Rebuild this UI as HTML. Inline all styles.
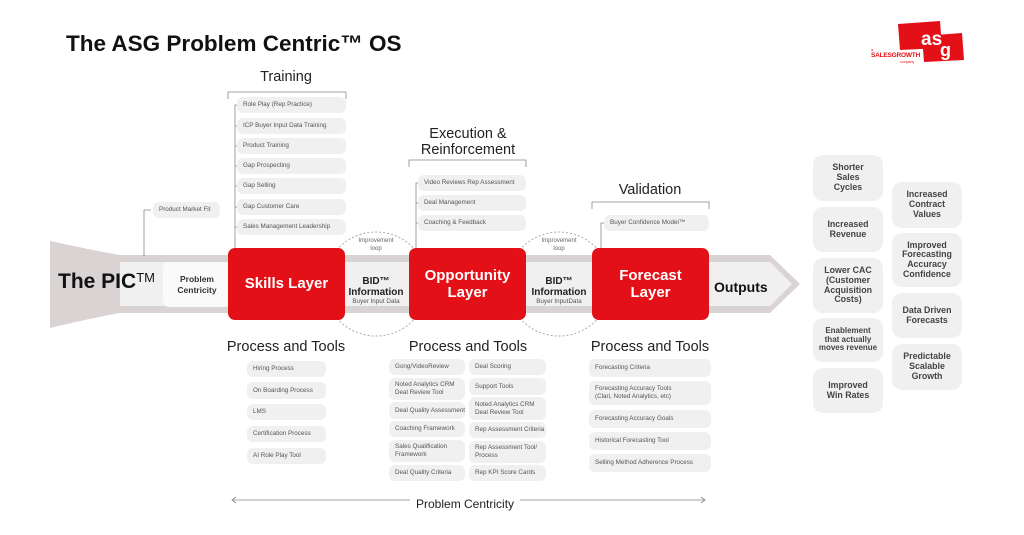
<!DOCTYPE html>
<html><head><meta charset="utf-8"><style>
*{margin:0;padding:0;box-sizing:border-box}
body{width:1024px;height:535px;background:#fff;font-family:"Liberation Sans",sans-serif;position:relative;overflow:hidden;color:#222}
.a{position:absolute}
.p{position:absolute;background:#f0f0f0;border-radius:6px;font-size:6.3px;color:#555;display:flex;align-items:center;padding-left:6px;line-height:1.2;white-space:nowrap}
.red{position:absolute;background:#e31017;border-radius:7px;color:#fff;font-weight:bold;display:flex;align-items:center;justify-content:center;text-align:center;font-size:15px;line-height:1.15}
.o{position:absolute;background:#f0f0f0;border-radius:10px;display:flex;align-items:center;justify-content:center;text-align:center;font-size:8.8px;font-weight:bold;color:#444;line-height:1.1}
.h{position:absolute;font-size:14.5px;color:#222;text-align:center;white-space:nowrap}
.bid{position:absolute;text-align:center;font-size:10px;font-weight:bold;color:#222;line-height:1.05}
.bid small{display:block;font-size:6.3px;font-weight:normal;color:#555;margin-top:1px}
.il{position:absolute;font-size:6px;color:#666;text-align:center;line-height:1.3}
</style></head><body>
<div class="a" style="left:66px;top:31px;font-size:22.5px;font-weight:bold;color:#111">The ASG Problem Centric™ OS</div>

<svg class="a" style="left:0;top:0" width="1024" height="535">
<path d="M898 24 L940 21 L942 48 L900 50 Z" fill="#e31017"/>
<path d="M922 36 L962 33 L964 60 L924 62 Z" fill="#e31017"/>
<text x="921" y="45" fill="#fff" font-size="19" font-weight="bold" font-family="Liberation Sans">as</text>
<text x="940" y="56" fill="#fff" font-size="18" font-weight="bold" font-family="Liberation Sans">g</text>
<circle cx="376" cy="284" r="52" fill="none" stroke="#aaa" stroke-width="1" stroke-dasharray="2 2"/>
<circle cx="559" cy="284" r="52" fill="none" stroke="#aaa" stroke-width="1" stroke-dasharray="2 2"/>
<path d="M50 241 Q100 252 120 255 L770 255 L800 284 L770 313 L120 313 Q100 316 50 328 Z" fill="#d9d3d3"/>
<path d="M120 262 L770 262 L792 284 L770 306 L120 306 Z" fill="#f0f0f0"/>
<path d="M50 241 Q100 252 120 255 L120 313 Q100 316 50 328 Z" fill="#d9d3d3"/>
<g stroke="#888" stroke-width="0.8" fill="none">
<path d="M144 256 V210 H151"/>
<path d="M228 99 V92 H346 V99"/>
<path d="M235 248 V105 H240"/>
<path d="M235 126 H240 M235 146 H240 M235 166 H240 M235 186 H240 M235 207 H240 M235 227 H240"/>
<path d="M409 167 V160 H526 V167"/>
<path d="M416 248 V183 H421 M416 203 H421 M416 223 H421"/>
<path d="M592 209 V202 H709 V209"/>
<path d="M601 248 V223 H606"/>
<path d="M232 500 H705"/>
<path d="M236 497 L232 500 L236 503 M701 497 L705 500 L701 503"/>
</g>
</svg>
<div class="a" style="left:871px;top:47px;font-size:4px;color:#e31017">a</div>
<div class="a" style="left:871px;top:52px;font-size:6.5px;color:#e31017;font-weight:bold;letter-spacing:-0.2px">SALESGROWTH</div>
<div class="a" style="left:900px;top:60px;font-size:3.5px;color:#e31017">company</div>

<div class="a" style="left:58px;top:270px;font-size:21px;font-weight:bold;color:#111">The PIC<span style="font-size:13px;font-weight:normal;vertical-align:6px">TM</span></div>
<div class="a" style="left:163px;top:262px;width:68px;height:45px;background:#fafafa;border-radius:6px;display:flex;align-items:center;justify-content:center;text-align:center;font-size:8.5px;font-weight:bold;color:#333;line-height:1.2">Problem<br>Centricity</div>
<div class="red" style="left:228px;top:248px;width:117px;height:72px">Skills Layer</div>
<div class="red" style="left:409px;top:248px;width:117px;height:72px">Opportunity<br>Layer</div>
<div class="red" style="left:592px;top:248px;width:117px;height:72px">Forecast<br>Layer</div>
<div class="bid" style="left:343px;top:277px;width:66px">BID™<br>Information<small>Buyer Input Data</small></div>
<div class="bid" style="left:526px;top:277px;width:66px">BID™<br>Information<small>Buyer InputData</small></div>
<div class="il" style="left:346px;top:238px;width:60px">Improvement<br>loop</div>
<div class="il" style="left:529px;top:238px;width:60px">Improvement<br>loop</div>
<div class="a" style="left:714px;top:279px;font-size:14px;font-weight:bold;color:#111">Outputs</div>

<div class="h" style="left:226px;top:69px;width:120px">Training</div>
<div class="h" style="left:408px;top:126px;width:120px;line-height:16px">Execution &amp;<br>Reinforcement</div>
<div class="h" style="left:590px;top:182px;width:120px">Validation</div>
<div class="h" style="left:206px;top:339px;width:160px">Process and Tools</div>
<div class="h" style="left:388px;top:339px;width:160px">Process and Tools</div>
<div class="h" style="left:570px;top:339px;width:160px">Process and Tools</div>

<div class="p" style="left:153px;top:202px;width:67px;height:16px">Product Market Fit</div>
<div class="p" style="left:237px;top:97px;width:109px;height:16px">Role Play (Rep Practice)</div>
<div class="p" style="left:237px;top:118px;width:109px;height:16px">ICP Buyer Input Data Training</div>
<div class="p" style="left:237px;top:138px;width:109px;height:16px">Product Training</div>
<div class="p" style="left:237px;top:158px;width:109px;height:16px">Gap Prospecting</div>
<div class="p" style="left:237px;top:178px;width:109px;height:16px">Gap Selling</div>
<div class="p" style="left:237px;top:199px;width:109px;height:16px">Gap Customer Care</div>
<div class="p" style="left:237px;top:219px;width:109px;height:16px">Sales Management Leadership</div>

<div class="p" style="left:418px;top:175px;width:108px;height:16px">Video Reviews Rep Assessment</div>
<div class="p" style="left:418px;top:195px;width:108px;height:16px">Deal Management</div>
<div class="p" style="left:418px;top:215px;width:108px;height:16px">Coaching &amp; Feedback</div>
<div class="p" style="left:604px;top:215px;width:105px;height:16px">Buyer Confidence Model™</div>

<div class="p" style="left:247px;top:361px;width:79px;height:16px">Hiring Process</div>
<div class="p" style="left:247px;top:382px;width:79px;height:17px">On Boarding Process</div>
<div class="p" style="left:247px;top:404px;width:79px;height:16px">LMS</div>
<div class="p" style="left:247px;top:426px;width:79px;height:16px">Certification Process</div>
<div class="p" style="left:247px;top:448px;width:79px;height:16px">AI Role Play Tool</div>

<div class="p" style="left:389px;top:359px;width:76px;height:16px">Gong/VideoReview</div>
<div class="p" style="left:389px;top:378px;width:76px;height:22px">Noted Analytics CRM<br>Deal Review Tool</div>
<div class="p" style="left:389px;top:402px;width:76px;height:17px">Deal Quality Assessment</div>
<div class="p" style="left:389px;top:421px;width:76px;height:16px">Coaching Framework</div>
<div class="p" style="left:389px;top:440px;width:76px;height:22px">Sales Qualification<br>Framework</div>
<div class="p" style="left:389px;top:465px;width:76px;height:16px">Deal Quality Criteria</div>
<div class="p" style="left:469px;top:359px;width:77px;height:16px">Deal Scoring</div>
<div class="p" style="left:469px;top:378px;width:77px;height:17px">Support Tools</div>
<div class="p" style="left:469px;top:397px;width:77px;height:23px">Noted Analytics CRM<br>Deal Review Tool</div>
<div class="p" style="left:469px;top:422px;width:77px;height:16px">Rep Assessment Criteria</div>
<div class="p" style="left:469px;top:441px;width:77px;height:22px">Rep Assessment Tool/<br>Process</div>
<div class="p" style="left:469px;top:465px;width:77px;height:16px">Rep KPI Score Cards</div>

<div class="p" style="left:589px;top:359px;width:122px;height:18px">Forecasting Criteria</div>
<div class="p" style="left:589px;top:381px;width:122px;height:24px">Forecasting Accuracy Tools<br>(Clari, Noted Analytics, etc)</div>
<div class="p" style="left:589px;top:410px;width:122px;height:18px">Forecasting Accuracy Goals</div>
<div class="p" style="left:589px;top:432px;width:122px;height:18px">Historical Forecasting Tool</div>
<div class="p" style="left:589px;top:454px;width:122px;height:18px">Selling Method Adherence Process</div>

<div class="a" style="left:410px;top:497px;background:#fff;padding:0 6px;font-size:12px;color:#222">Problem Centricity</div>

<div class="o" style="left:813px;top:155px;width:70px;height:46px">Shorter<br>Sales<br>Cycles</div>
<div class="o" style="left:813px;top:207px;width:70px;height:45px">Increased<br>Revenue</div>
<div class="o" style="left:813px;top:258px;width:70px;height:55px">Lower CAC<br>(Customer<br>Acquisition<br>Costs)</div>
<div class="o" style="left:813px;top:318px;width:70px;height:44px;font-size:8px">Enablement<br>that actually<br>moves revenue</div>
<div class="o" style="left:813px;top:368px;width:70px;height:45px">Improved<br>Win Rates</div>
<div class="o" style="left:892px;top:182px;width:70px;height:46px">Increased<br>Contract<br>Values</div>
<div class="o" style="left:892px;top:233px;width:70px;height:54px">Improved<br>Forecasting<br>Accuracy<br>Confidence</div>
<div class="o" style="left:892px;top:293px;width:70px;height:45px">Data Driven<br>Forecasts</div>
<div class="o" style="left:892px;top:344px;width:70px;height:46px">Predictable<br>Scalable<br>Growth</div>
</body></html>
